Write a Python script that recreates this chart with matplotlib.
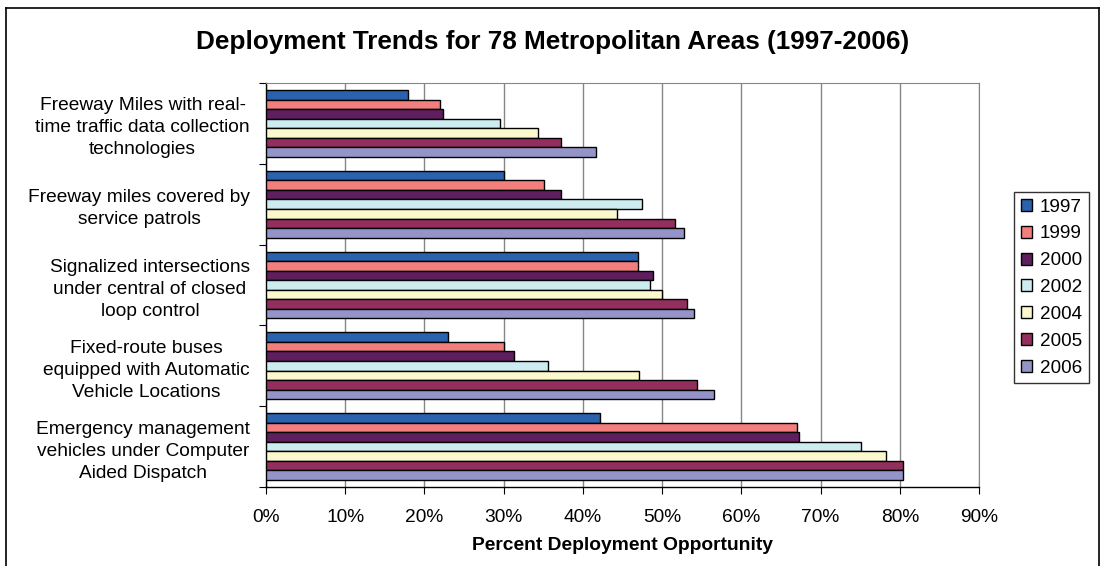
"""Deployment trends bar chart (78 metro areas, 1997-2006)."""
import matplotlib
matplotlib.use("Agg")
import matplotlib.pyplot as plt                                    # noqa: E402
from matplotlib.lines import Line2D                                # noqa: E402
from matplotlib.ticker import PercentFormatter                     # noqa: E402
import numpy as np                                                 # noqa: E402

plt.rcParams["font.family"] = ["Liberation Sans", "DejaVu Sans"]

CATEGORIES = [
    "Freeway Miles with real-\ntime traffic data collection\ntechnologies",
    "Freeway miles covered by\nservice patrols",
    "Signalized intersections\nunder central of closed\nloop control",
    "Fixed-route buses\nequipped with Automatic\nVehicle Locations",
    "Emergency management\nvehicles under Computer\nAided Dispatch",
]
YEARS = ["1997", "1999", "2000", "2002", "2004", "2005", "2006"]
V1997 = [17.9, 30.0, 47.0, 23.0, 42.1]
V1999 = [22.0, 35.1, 47.0, 30.0, 67.0]
V2000 = [22.4, 37.2, 48.8, 31.3, 67.3]
V2002 = [29.5, 47.5, 48.5, 35.6, 75.1]
V2004 = [34.3, 44.3, 50.0, 47.1, 78.2]
V2005 = [37.2, 51.6, 53.1, 54.4, 80.4]
V2006 = [41.6, 52.7, 54.0, 56.6, 80.4]
SERIES = [V1997, V1999, V2000, V2002, V2004, V2005, V2006]
COLORS = ["#2a62ae", "#f27e7e", "#5f1f5f", "#cdecf0", "#fcf8cd",
          "#932f5e", "#9494c8"]

W, H = 1101, 566
fig = plt.figure(figsize=(W / 100, H / 100), dpi=100)
ax = fig.add_axes([266 / W, 1 - 487 / H, (979 - 266) / W, (487 - 83) / H])

y = np.arange(len(CATEGORIES))
bh = 0.118
for i, (vals, col, yr) in enumerate(zip(SERIES, COLORS, YEARS)):
    ax.barh(y + (i - 3) * bh, vals, height=bh, color=col, edgecolor="black",
            linewidth=1.0, label=yr, zorder=3)

ax.set_xlim(0, 90)
ax.set_ylim(len(CATEGORIES) - 0.5, -0.5)
ax.set_xticks(np.arange(0, 91, 10))
ax.xaxis.set_major_formatter(PercentFormatter(decimals=0))
ax.tick_params(axis="x", labelsize=13.8, length=5, color="black", pad=10.5)

ax.set_yticks(np.arange(-0.5, len(CATEGORIES)), labels=[])
ax.set_yticks(y, minor=True)
ax.set_yticklabels(CATEGORIES, minor=True, fontsize=13.8,
                   multialignment="center", linespacing=1.38)
ax.tick_params(axis="y", which="major", length=5, color="black")
ax.tick_params(axis="y", which="minor", length=0, pad=11.5)

ax.grid(axis="x", color="#868686", linewidth=1.0, zorder=0)
for s in ("top", "right"):
    ax.spines[s].set_color("#868686")
for s in ("left", "bottom"):
    ax.spines[s].set_color("black")
    ax.spines[s].set_linewidth(1.0)

ax.set_xlabel("Percent Deployment Opportunity", fontsize=13.9,
              fontweight="bold", labelpad=8.5)
fig.text(553 / W, 1 - 42 / H,
         "Deployment Trends for 78 Metropolitan Areas (1997-2006)",
         ha="center", va="center", fontsize=18.8, fontweight="bold")

leg = ax.legend(loc="upper left", bbox_to_anchor=(1014 / W, 1 - 192 / H),
                bbox_transform=fig.transFigure, borderaxespad=0,
                fontsize=13.6, handlelength=0.6, handleheight=0.6,
                handletextpad=0.42, labelspacing=0.52, borderpad=0.35,
                fancybox=False, frameon=True)
leg.get_frame().set_edgecolor("black")
leg.get_frame().set_linewidth(1.0)

# outer chart-area border (bottom edge falls outside the image)
x0, x1, yt = 6 / W, 1099 / W, 1 - 8 / H
for xs, ys in (([x0, x0], [0, yt]), ([x0, x1], [yt, yt]), ([x1, x1], [yt, 0])):
    fig.add_artist(Line2D(xs, ys, color="black", linewidth=1.2,
                          transform=fig.transFigure))

fig.savefig("out.png", dpi=100)
